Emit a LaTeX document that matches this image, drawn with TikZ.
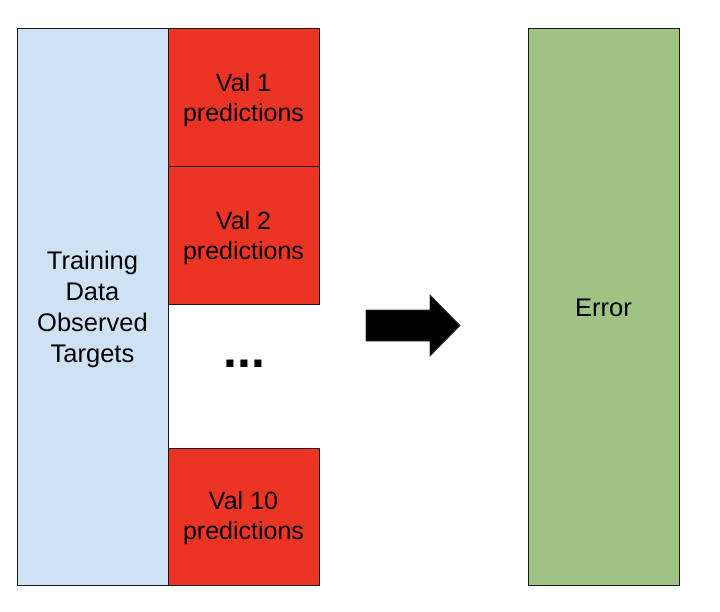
\documentclass[tikz,border=0pt]{standalone}
\usepackage{fontspec}
\setmainfont{Liberation Sans}
\begin{document}
\begin{tikzpicture}[x=1pt,y=-1pt,
  box/.style={draw=black!90,line width=1pt},
  lbl/.style={align=center,font=\fontsize{25.5}{31}\selectfont},
  rlbl/.style={align=center,font=\fontsize{25}{29.5}\selectfont}]
\definecolor{lblue}{HTML}{CFE2F3}
\definecolor{vred}{HTML}{EC3425}
\definecolor{lgreen}{HTML}{9FC384}
\useasboundingbox (0,0) rectangle (720,612);
% left training column
\draw[box,fill=lblue] (17,29) rectangle (168,585);
\node[lbl] (train) at (92.5,309) {Training\\Data\\Observed\\Targets};
% validation boxes
\draw[box,fill=vred] (168,29) rectangle (319,167);
\node[rlbl] (v1) at (243.5,100) {Val 1\\predictions};
\draw[box,fill=vred] (168,167) rectangle (319,305);
\node[rlbl] (v2) at (243.5,238) {Val 2\\predictions};
\draw[box,fill=vred] (168,448) rectangle (319,585);
\node[rlbl] (v10) at (243.5,518) {Val 10\\predictions};
\node[anchor=base,font=\fontsize{50}{50}\selectfont\bfseries] (dots) at (244.5,367.5) {...};
% arrow
\draw[fill=black,draw=black!80,line width=0.8pt,line join=miter]
  (366,310) -- (430,310) -- (430,295) -- (460,325.5) -- (430,356) -- (430,341) -- (366,341) -- cycle;
% error column
\draw[box,fill=lgreen] (528,29) rectangle (679,585);
\node[lbl] (err) at (603.5,308) {Error};
\end{tikzpicture}
\end{document}
